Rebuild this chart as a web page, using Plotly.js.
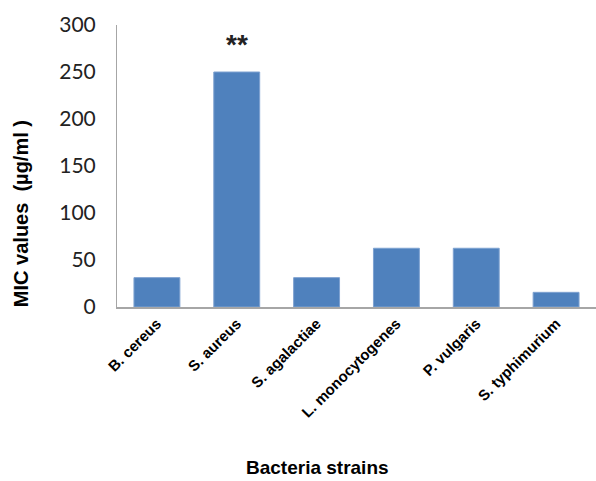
<!DOCTYPE html>
<html>
<head>
<meta charset="utf-8">
<script src="https://cdn.plot.ly/plotly-3.0.1.min.js"></script>
<style>html,body{margin:0;padding:0;background:#fff;}#chart{width:596px;height:481px;}</style>
</head>
<body>
<div id="chart"></div>
<script>
const strains = ["B. cereus", "S. aureus", "S. agalactiae", "L. monocytogenes", "P. vulgaris", "S. typhimurium"];
const micValues = [31.25, 250, 31.25, 62.5, 62.5, 15.6];
const yTicks = [0, 50, 100, 150, 200, 250, 300];
const sigLabel = "**";
const sigStrain = "S. aureus";

const trace = {
  type: "bar",
  x: strains,
  y: micValues,
  marker: {color: "#4f81bd", line: {color: "#7ea2d1", width: 1}},
  hoverinfo: "x+y"
};

const layout = {
  width: 596, height: 481,
  margin: {l: 117, r: 0, t: 25, b: 174},
  paper_bgcolor: "#fff", plot_bgcolor: "#fff",
  showlegend: false,
  bargap: 0.425,
  xaxis: {
    type: "category",
    showline: true, linecolor: "#a6a6a6", linewidth: 2,
    showgrid: false, zeroline: false,
    tickangle: -45,
    tickfont: {family: "Liberation Sans, Arial, sans-serif", size: 15, color: "#000", weight: "bold"},
    ticks: "", fixedrange: true
  },
  yaxis: {
    range: [0, 300],
    tickvals: yTicks,
    showline: true, linecolor: "#a6a6a6", linewidth: 1,
    showgrid: false, zeroline: false,
    ticks: "",
    ticklabelstandoff: 16,
    tickfont: {family: "Lato, sans-serif", size: 21, color: "#222"},
    fixedrange: true
  },
  annotations: [
    {xref: "paper", yref: "paper", x: -0.2, y: 0.33, xanchor: "center", yanchor: "middle",
     text: "MIC values  (µg/ml )", textangle: -90, showarrow: false,
     font: {family: "Liberation Sans, Arial, sans-serif", size: 20, color: "#000", weight: "bold"}},
    {xref: "paper", yref: "paper", x: (317 - 117) / 479, y: -(468 - 307) / 282, xanchor: "center", yanchor: "middle",
     text: "Bacteria strains", showarrow: false,
     font: {family: "Liberation Sans, Arial, sans-serif", size: 19, color: "#000", weight: "bold"}},
    {xref: "x", yref: "y", x: sigStrain, y: 279, xanchor: "center", yanchor: "middle",
     text: sigLabel, showarrow: false,
     font: {family: "Liberation Sans, Arial, sans-serif", size: 28, color: "#222", weight: "bold"}}
  ]
};

Plotly.newPlot("chart", [trace], layout, {displayModeBar: false, staticPlot: true});
</script>
</body>
</html>
